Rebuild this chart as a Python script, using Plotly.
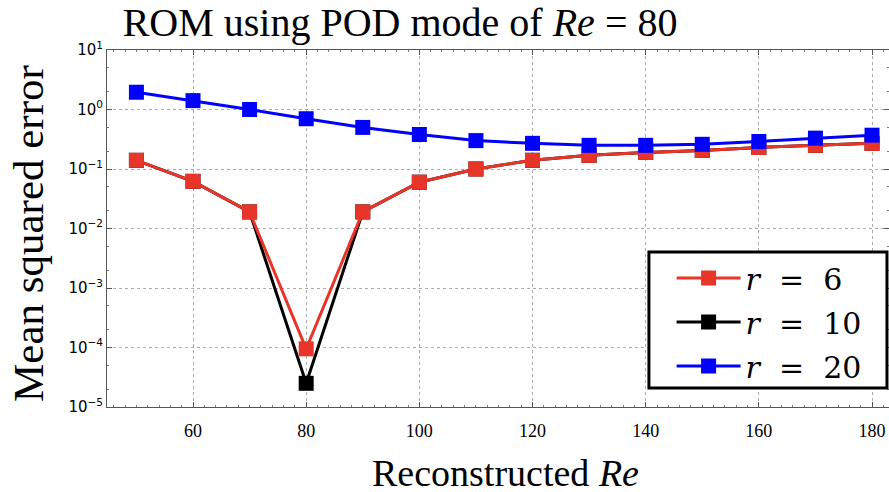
import plotly.graph_objects as go

re_vals = [50, 60, 70, 80, 90, 100, 110, 120, 130, 140, 150, 160, 170, 180]
mse_r6 = [0.14, 0.062, 0.019, 9.5e-5, 0.019, 0.06, 0.10, 0.14, 0.17, 0.19, 0.205, 0.23, 0.25, 0.27]
mse_r10 = [0.14, 0.062, 0.019, 2.5e-5, 0.019, 0.06, 0.10, 0.14, 0.17, 0.19, 0.205, 0.23, 0.25, 0.27]
mse_r20 = [1.95, 1.41, 1.0, 0.70, 0.50, 0.38, 0.30, 0.27, 0.25, 0.25, 0.26, 0.29, 0.33, 0.37]

x_ticks = [60, 80, 100, 120, 140, 160, 180]
y_ticks = [1e-5, 1e-4, 1e-3, 1e-2, 1e-1, 1e0, 1e1]
y_ticktext = ["10<sup>\u22125</sup>", "10<sup>\u22124</sup>", "10<sup>\u22123</sup>",
              "10<sup>\u22122</sup>", "10<sup>\u22121</sup>", "10<sup>0</sup>", "10<sup>1</sup>"]

RED = "#e8352a"
NB = "\u00a0"
def lbl(v):
    return "<i>r</i>" + NB + NB + "=" + NB + NB + v

fig = go.Figure()
series = [
    (lbl("10"), mse_r10, "#000000", 2),
    (lbl("6"), mse_r6, RED, 1),
    (lbl("20"), mse_r20, "#0000ff", 3),
]
for name, ys, col, rank in series:
    fig.add_trace(go.Scatter(
        x=re_vals, y=ys, name=name, mode="lines+markers",
        line=dict(color=col, width=3),
        marker=dict(symbol="square", size=15, color=col),
        legendrank=rank, legendgroup=str(rank),
    ))

axis_common = dict(
    showline=True, linecolor="#555555", linewidth=1, mirror="ticks",
    ticks="inside", ticklen=5, tickcolor="#555555",
    showgrid=True, gridcolor="#aaaaaa", griddash="dot", gridwidth=1,
    zeroline=False,
)
fig.update_xaxes(
    range=[44.8, 183], tickvals=x_ticks, ticklabelstandoff=7,
    tickfont=dict(family="Liberation Serif", size=18, color="#000"),
    minor=dict(ticks="inside", ticklen=2, dtick=2, tickcolor="#777777", showgrid=False),
    **axis_common,
)
fig.update_yaxes(
    type="log", range=[-5, 1], tickvals=y_ticks, ticktext=y_ticktext,
    tickfont=dict(family="DejaVu Sans", size=15, color="#000"),
    minor=dict(ticks="inside", ticklen=2, tickcolor="#777777", showgrid=False),
    **axis_common,
)

fig.update_layout(
    width=889, height=492,
    margin=dict(l=107, r=0, t=50, b=85),
    paper_bgcolor="white", plot_bgcolor="white",
    showlegend=True,
    legend=dict(
        x=0.722, xanchor="left", y=0.434, yanchor="top",
        borderwidth=0, bgcolor="rgba(0,0,0,0)",
        font=dict(family="DejaVu Serif", size=30, color="#000"),
        itemwidth=64, tracegroupgap=2,
    ),
    shapes=[
        dict(type="rect", xref="paper", yref="paper",
             x0=0.693, x1=0.9974, y0=0.053, y1=0.434,
             line=dict(color="#000", width=3), fillcolor="white", layer="above"),
    ],
    title=dict(
        text="ROM using POD mode of <i>Re</i> = 80",
        x=0.45, xref="container", xanchor="center",
        y=0.955, yref="container", yanchor="middle",
        font=dict(family="Liberation Serif", size=40, color="#000"),
    ),
    annotations=[
        dict(text="Mean squared error", xref="paper", yref="paper",
             x=-0.0997, y=0.485, xanchor="center", yanchor="middle",
             textangle=-90, showarrow=False,
             font=dict(family="Liberation Serif", size=43, color="#000")),
        dict(text="Reconstructed <i>Re</i>", xref="paper", yref="paper",
             x=0.509, y=-0.186, xanchor="center", yanchor="middle",
             showarrow=False,
             font=dict(family="Liberation Serif", size=38, color="#000")),
    ],
)

fig.write_html("out.html")
